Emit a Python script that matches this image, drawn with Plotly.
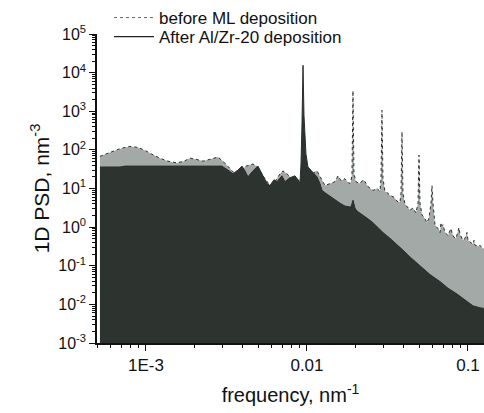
import plotly.graph_objects as go

# ---- data (frequency in nm^-1, 1D PSD in nm^3) ----
before_freq = [5.18e-4, 5.56e-4, 5.98e-4, 6.70e-4, 7.41e-4, 7.95e-4, 8.92e-4, 9.86e-4,
               1.09e-3, 1.22e-3, 1.37e-3, 1.56e-3, 1.72e-3, 1.88e-3, 2.05e-3, 2.26e-3,
               2.50e-3, 2.80e-3, 3.05e-3, 3.33e-3, 3.57e-3, 3.84e-3, 4.18e-3, 4.62e-3,
               4.96e-3, 5.33e-3, 5.89e-3, 6.33e-3, 6.80e-3, 7.10e-3, 7.51e-3, 8.07e-3,
               8.79e-3, 9.45e-3, 1.014e-2, 1.074e-2, 1.154e-2, 1.204e-2, 1.294e-2, 1.390e-2,
               1.493e-2, 1.558e-2, 1.626e-2, 1.722e-2, 1.824e-2, 1.876e-2, 1.903e-2, 1.931e-2,
               1.958e-2, 2.015e-2, 2.134e-2, 2.228e-2, 2.292e-2, 2.393e-2, 2.570e-2, 2.722e-2,
               2.841e-2, 2.882e-2, 2.923e-2, 2.965e-2, 3.052e-2, 3.185e-2, 3.278e-2, 3.471e-2,
               3.622e-2, 3.781e-2, 3.836e-2, 3.891e-2, 3.947e-2, 4.061e-2, 4.240e-2, 4.363e-2,
               4.555e-2, 4.754e-2, 4.892e-2, 4.963e-2, 5.034e-2, 5.180e-2, 5.407e-2, 5.564e-2,
               5.726e-2, 5.891e-2, 5.976e-2, 6.062e-2, 6.237e-2, 6.511e-2, 6.701e-2, 6.797e-2,
               6.895e-2, 6.995e-2, 7.197e-2, 7.513e-2, 7.731e-2, 7.842e-2, 7.955e-2, 8.185e-2,
               8.424e-2, 8.669e-2, 8.793e-2, 8.920e-2, 9.310e-2, 9.581e-2, 9.858e-2, 0.1000,
               0.1044, 0.1074, 0.1090, 0.1105, 0.1154, 0.1187, 0.1222, 0.1258, 0.1294]
before_psd = [68, 77, 86, 103, 116, 123, 116, 97,
              77, 61, 51, 46, 51, 61, 57, 51,
              57, 65, 48, 32, 24, 27, 38, 43,
              36, 21.3, 11.9, 15, 24, 28.6, 24, 17.9,
              16, 19, 21.3, 24, 28.6, 20.1, 11.9, 13.4,
              15, 21.3, 16, 17.9, 13.4, 15, 24, 3400,
              24, 15, 13.4, 16.9, 15, 11.2, 8.9, 10,
              8.4, 17.9, 1060, 17.9, 8.4, 7.5, 6.65, 5.92,
              4.69, 4.42, 7.5, 294, 7.5, 3.94, 3.30, 2.77,
              3.12, 2.33, 4.17, 73, 4.17, 2.07, 1.64, 1.30,
              1.74, 4.17, 11.9, 4.17, 1.16, 0.916, 0.726, 1.30,
              1.09, 1.16, 0.726, 0.609, 0.815, 0.916, 0.726, 0.542,
              0.512, 0.726, 0.97, 0.646, 0.455, 0.512, 0.726, 0.455,
              0.405, 0.360, 0.455, 0.340, 0.321, 0.340, 0.286, 0.269, 0.254]

after_freq = [5.18e-4, 6.90e-4, 7.41e-4, 1.22e-3, 2.96e-3, 3.23e-3, 3.47e-3, 3.73e-3,
              3.95e-3, 4.12e-3, 4.30e-3, 4.62e-3, 4.96e-3, 5.25e-3, 5.64e-3, 5.89e-3,
              6.24e-3, 6.51e-3, 6.99e-3, 7.30e-3, 7.84e-3, 8.42e-3, 8.79e-3, 9.05e-3,
              9.18e-3, 9.31e-3, 9.45e-3, 9.58e-3, 9.72e-3, 9.86e-3, 1.014e-2, 1.074e-2,
              1.154e-2, 1.204e-2, 1.240e-2, 1.31e-2, 1.390e-2, 1.493e-2, 1.604e-2, 1.722e-2,
              1.876e-2, 1.931e-2, 1.986e-2, 2.044e-2, 2.228e-2, 2.393e-2, 2.570e-2, 2.76e-2,
              2.965e-2, 3.278e-2, 3.622e-2, 3.947e-2, 4.363e-2, 4.82e-2, 5.25e-2, 5.81e-2,
              6.70e-2, 7.513e-2, 8.55e-2, 9.58e-2, 0.1074, 0.1187, 0.1294]
after_psd = [36, 36, 38, 38, 38, 30, 24, 30,
             38, 28.6, 20.1, 28.6, 38, 24, 13.4, 11.9,
             16.9, 15, 21.3, 15, 19, 21.3, 16.9, 13.4,
             43, 443, 15500, 792, 138, 77, 36, 27,
             20.1, 13.4, 8.9, 7.5, 6.27, 4.97, 4.17, 3.50,
             3.30, 4.97, 3.12, 2.62, 2.07, 1.64, 1.30, 0.97,
             0.726, 0.512, 0.360, 0.254, 0.169, 0.119, 0.084, 0.059,
             0.039, 0.0262, 0.0185, 0.0130, 0.00917, 0.00815, 0.0077]

series_names = ["before ML deposition", "After Al/Zr-20 deposition"]
x_tick_vals = [1e-3, 1e-2, 1e-1]
x_tick_text = ["1E-3", "0.01", "0.1"]
y_exponents = [-3, -2, -1, 0, 1, 2, 3, 4, 5]

FONT = "Arial, Liberation Sans, sans-serif"
GRAY_FILL = "#a3a9a6"
DARK_FILL = "#2d3430"
LINE_DARK = "#2a2f2c"

fig = go.Figure()
fig.add_trace(go.Scatter(x=before_freq, y=before_psd, mode="lines", fill="tozeroy",
                         fillcolor=GRAY_FILL, line=dict(color=LINE_DARK, width=1, dash="dot"),
                         showlegend=False))
fig.add_trace(go.Scatter(x=after_freq, y=after_psd, mode="lines", fill="tozeroy",
                         fillcolor=DARK_FILL, line=dict(color=LINE_DARK, width=1),
                         showlegend=False))
# legend entries (line samples only)
fig.add_trace(go.Scatter(x=[None], y=[None], mode="lines", name=series_names[0],
                         line=dict(color="#666", width=1, dash="dot"), legend="legend"))
fig.add_trace(go.Scatter(x=[None], y=[None], mode="lines", name=series_names[1],
                         line=dict(color="#222", width=1.2), legend="legend2"))

minor_x = [m * 10.0 ** e for e in (-4, -3, -2) for m in range(2, 10)]
minor_y = [m * 10.0 ** e for e in range(-3, 5) for m in range(2, 10)]
y_tick_vals = [10.0 ** e for e in y_exponents]
y_tick_text = ["10<sup>%d</sup>" % e for e in y_exponents]

leg_common = dict(xanchor="left", yanchor="top", bgcolor="rgba(0,0,0,0)", itemwidth=40,
                  font=dict(size=17, family=FONT, color="#111"))

fig.update_layout(
    width=484, height=413,
    margin=dict(l=97, r=0, t=27, b=70),
    paper_bgcolor="white", plot_bgcolor="white",
    font=dict(family=FONT, color="#111", size=16),
    legend=dict(x=0.031, y=1.111, **leg_common),
    legend2=dict(x=0.031, y=1.048, **leg_common),
    xaxis=dict(type="log", range=[-3.304, -0.9006], automargin=False,
               tickmode="array", tickvals=x_tick_vals, ticktext=x_tick_text,
               ticks="outside", ticklen=6, tickwidth=1.3, tickcolor="#111",
               showline=True, linecolor="#111", linewidth=1.5,
               showgrid=False, zeroline=False,
               tickfont=dict(size=17),
               minor=dict(tickmode="array", tickvals=minor_x, ticks="outside",
                          ticklen=3, tickwidth=1, tickcolor="#111", showgrid=False),
               title=dict(text="frequency, nm<sup>-1</sup>", font=dict(size=20), standoff=14)),
    yaxis=dict(type="log", range=[-3, 5], automargin=False,
               tickmode="array", tickvals=y_tick_vals, ticktext=y_tick_text,
               ticks="outside", ticklen=6, tickwidth=1.3, tickcolor="#111",
               showline=True, linecolor="#111", linewidth=1.5,
               showgrid=False, zeroline=False,
               tickfont=dict(size=16),
               minor=dict(tickmode="array", tickvals=minor_y, ticks="outside",
                          ticklen=3, tickwidth=1, tickcolor="#111", showgrid=False),
               title=dict(text="1D PSD, nm<sup>-3</sup>", font=dict(size=21), standoff=3)),
)

fig.write_html("out.html")
